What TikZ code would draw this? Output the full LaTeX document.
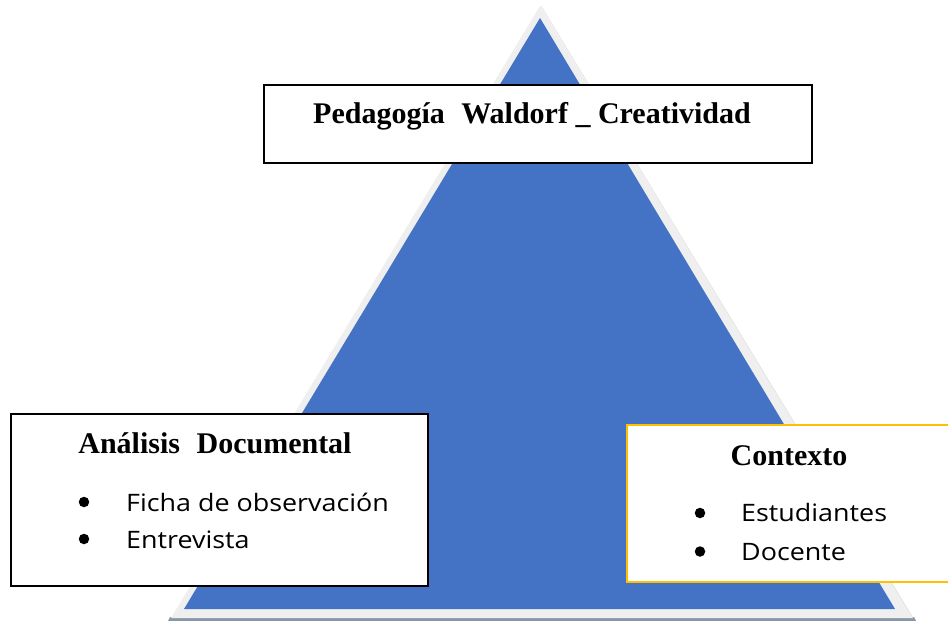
\documentclass[tikz,border=0pt]{standalone}
\usepackage{fontspec}
\setmainfont{Liberation Serif}
\newfontfamily\bodysans[FakeStretch=1.12]{Open Sans}
\definecolor{triblue}{HTML}{4472C4}
\definecolor{rimgray}{HTML}{EFEFEF}
\definecolor{rimdark}{HTML}{8A97A8}
\definecolor{boxyellow}{HTML}{FFC000}
\begin{document}
\begin{tikzpicture}[x=1pt,y=-1pt,
  box/.style={draw=black,line width=1.6pt,fill=white,inner sep=0pt,anchor=north west},
  title/.style={font=\fontsize{30}{34}\selectfont\bfseries,inner sep=0pt,anchor=base},
  item/.style={font=\bodysans\fontsize{24}{28}\selectfont,inner sep=0pt,anchor=base west},
  dot/.style={circle,fill=black,inner sep=0pt,minimum size=10.5pt}]
\useasboundingbox (0,0) rectangle (948,621);
% triangle with rim
\fill[rimdark] (170,617) -- (914,617) -- (916,621) -- (168,621) -- cycle;
\fill[rimgray] (540,6) -- (913,618) -- (171,618) -- cycle;
\draw[color=black!12,line width=0.6pt] (541,6) -- (913,618);
\fill[triblue] (540,18) -- (895,609) -- (184,609) -- cycle;
% top box
\node[box,minimum width=548pt,minimum height=78pt] (topbox) at (263,84) {};
\node[title] (toptitle) at (532,123) {Pedagogía\hspace{.3em} Waldorf \_ Creatividad};
% left box
\node[box,line width=1.8pt,minimum width=417pt,minimum height=172pt] (leftbox) at (10,413) {};
\node[title] (lefttitle) at (215,453) {Análisis\hspace{.3em} Documental};
\node[dot] (ld1) at (84,502) {};
\node[dot] (ld2) at (84,539) {};
\node[item] (li1) at (126,511.5) {Ficha de observación};
\node[item] (li2) at (126,548.5) {Entrevista};
% right box
\node[box,draw=boxyellow,line width=1.8pt,minimum width=330pt,minimum height=157pt] (rightbox) at (626,424) {};
\node[title] (righttitle) at (789,465) {Contexto};
\node[dot] (rd1) at (700,513) {};
\node[dot] (rd2) at (700,551.5) {};
\node[item] (ri1) at (741,521.5) {Estudiantes};
\node[item] (ri2) at (741,560) {Docente};
\end{tikzpicture}
\end{document}
